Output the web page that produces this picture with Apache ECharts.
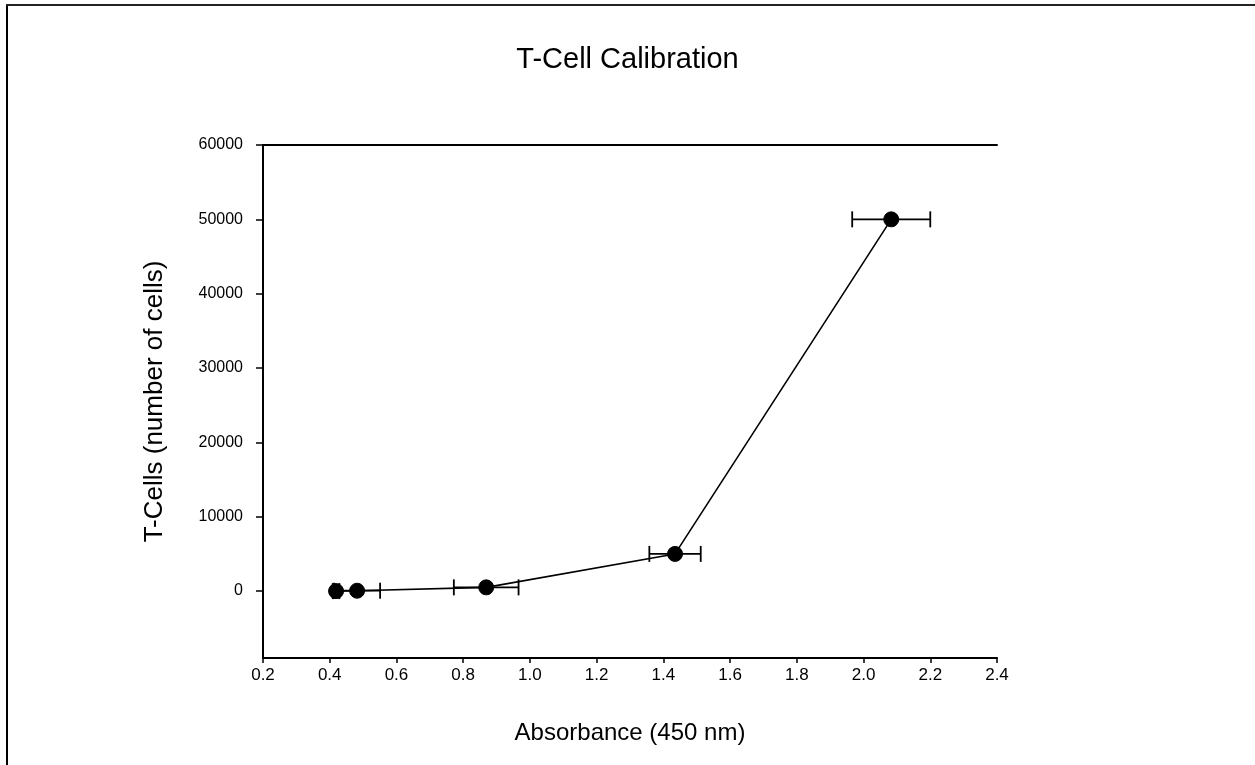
<!DOCTYPE html>
<html>
<head>
<meta charset="utf-8">
<title>T-Cell Calibration</title>
<script src="https://cdn.jsdelivr.net/npm/echarts@6/dist/echarts.min.js"></script>
<style>
  html, body { margin: 0; padding: 0; background: #fff; }
  #chart { width: 1255px; height: 765px; }
</style>
</head>
<body>
<div id="chart"></div>
<script>
// Calibration points: absorbance at 450 nm against number of T-cells
const absorbance = [0.419, 0.482, 0.869, 1.435, 2.083];
const cells = [0, 50, 500, 5000, 50000];
// Horizontal error (± absorbance) for each point
const absorbanceErr = [0.010, 0.069, 0.097, 0.077, 0.117];

const xTicks = [0.2, 0.4, 0.6, 0.8, 1.0, 1.2, 1.4, 1.6, 1.8, 2.0, 2.2, 2.4];
const yTicks = [0, 10000, 20000, 30000, 40000, 50000, 60000];

const points = absorbance.map((a, i) => [a, cells[i]]);
const errRows = absorbance.map((a, i) => [a - absorbanceErr[i], a + absorbanceErr[i], cells[i]]);

const font = '"Liberation Sans", Arial, sans-serif';
const chart = echarts.init(document.getElementById('chart'), null, { renderer: 'canvas' });

chart.setOption({
  backgroundColor: '#ffffff',
  animation: false,
  title: {
    text: 'T-Cell Calibration',
    left: 'center',
    top: 40,
    textStyle: { fontFamily: font, fontSize: 29, fontWeight: 'normal', color: '#000' }
  },
  grid: { left: 263, top: 145, width: 734, height: 513, containLabel: false },
  xAxis: [{
    type: 'value',
    min: 0.2,
    max: 2.4,
    interval: 0.2,
    name: 'Absorbance (450 nm)',
    nameLocation: 'middle',
    nameGap: 63,
    nameTextStyle: { fontFamily: font, fontSize: 24, color: '#000' },
    axisLine: { onZero: false, lineStyle: { color: '#000', width: 2 } },
    axisTick: { show: true, inside: false, length: 5, lineStyle: { color: '#000', width: 1.5 } },
    axisLabel: {
      fontFamily: font, fontSize: 17, color: '#000', margin: 9,
      formatter: v => xTicks.includes(Math.round(v * 10) / 10) ? v.toFixed(1) : ''
    },
    splitLine: { show: false }
  }, {
    // top edge of the plotting frame
    type: 'value',
    position: 'top',
    min: 0.2,
    max: 2.4,
    axisLine: { show: true, onZero: false, lineStyle: { color: '#000', width: 2 } },
    axisTick: { show: false },
    axisLabel: { show: false },
    splitLine: { show: false }
  }],
  yAxis: {
    type: 'value',
    min: -9000,
    max: 60000,
    interval: 10000,
    name: 'T-Cells (number of cells)',
    nameLocation: 'middle',
    nameGap: 95,
    nameTextStyle: { fontFamily: font, fontSize: 26, color: '#000' },
    axisLine: { onZero: false, lineStyle: { color: '#000', width: 2 } },
    axisTick: {
      show: true, length: 7, lineStyle: { color: '#000', width: 1.5 },
      customValues: yTicks
    },
    axisLabel: {
      fontFamily: font, fontSize: 16, color: '#000', margin: 20,
      customValues: yTicks,
      formatter: v => String(v)
    },
    splitLine: { show: false }
  },
  series: [
    {
      name: 'error',
      type: 'custom',
      z: 3,
      data: errRows,
      encode: { x: [0, 1], y: 2 },
      renderItem: function (params, api) {
        const lo = api.coord([api.value(0), api.value(2)]);
        const hi = api.coord([api.value(1), api.value(2)]);
        const cap = 8;
        const style = { stroke: '#000', lineWidth: 1.8 };
        return {
          type: 'group',
          children: [
            { type: 'line', shape: { x1: lo[0], y1: lo[1], x2: hi[0], y2: hi[1] }, style },
            { type: 'line', shape: { x1: lo[0], y1: lo[1] - cap, x2: lo[0], y2: lo[1] + cap }, style },
            { type: 'line', shape: { x1: hi[0], y1: hi[1] - cap, x2: hi[0], y2: hi[1] + cap }, style }
          ]
        };
      }
    },
    {
      name: 'T-Cells',
      type: 'line',
      z: 4,
      data: points,
      symbol: 'circle',
      symbolSize: 15,
      lineStyle: { color: '#000', width: 1.6 },
      itemStyle: { color: '#000', borderColor: '#000' }
    }
  ],
  graphic: [
    { type: 'line', shape: { x1: 7, y1: 5, x2: 7, y2: 765 }, style: { stroke: '#000', lineWidth: 2 } },
    { type: 'line', shape: { x1: 6, y1: 5, x2: 1255, y2: 5 }, style: { stroke: '#222', lineWidth: 2 } }
  ]
});
</script>
</body>
</html>
